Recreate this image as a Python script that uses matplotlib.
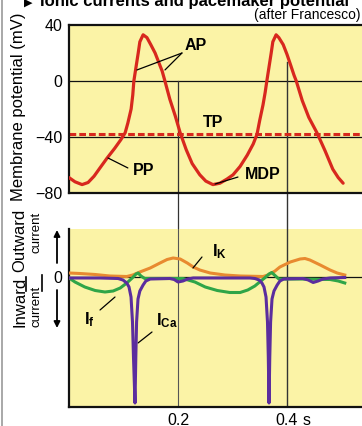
import matplotlib
matplotlib.use('Agg')
import matplotlib.pyplot as plt
from matplotlib.lines import Line2D

plt.rcParams['font.family'] = ['Liberation Sans', 'DejaVu Sans']
plt.rcParams['mathtext.fontset'] = 'custom'
plt.rcParams['mathtext.rm'] = 'Liberation Sans'
plt.rcParams['mathtext.bf'] = 'Liberation Sans:bold'
plt.rcParams['mathtext.it'] = 'Liberation Sans:italic'

# ---------------- data (time in s) ----------------
vm_t = [0.000, 0.011, 0.024, 0.035, 0.046, 0.057, 0.070, 0.084, 0.095, 0.103,
        0.108, 0.114, 0.117, 0.119, 0.123, 0.127, 0.130, 0.136, 0.143, 0.150,
        0.158, 0.165, 0.171, 0.176, 0.185, 0.195, 0.204, 0.215, 0.226, 0.240,
        0.251, 0.264, 0.277, 0.290, 0.301, 0.314, 0.327, 0.338, 0.345, 0.350,
        0.356, 0.360, 0.363, 0.367, 0.371, 0.374, 0.380, 0.385, 0.393, 0.400,
        0.407, 0.413, 0.417, 0.428, 0.440, 0.455, 0.470, 0.484, 0.494, 0.503]
vm_mv = [-69, -72, -74, -72.5, -68, -62, -55, -48, -42, -37,
         -30, -20, -10, 0, 10, 20, 28, 33, 31, 26,
         20, 13, 7, 0, -13, -25, -37, -49, -59, -67,
         -71.5, -74, -73, -70, -67, -61, -53, -45, -38, -28,
         -17, -8, 0, 10, 20, 28, 33, 31, 26, 19,
         11, 4, 0, -14, -26, -37, -50, -63, -69, -73]

ik_t = [0.000, 0.020, 0.048, 0.075, 0.106, 0.117, 0.130, 0.149, 0.167, 0.180,
        0.191, 0.204, 0.217, 0.228, 0.240, 0.259, 0.286, 0.314, 0.356, 0.365,
        0.378, 0.387, 0.406, 0.424, 0.433, 0.442, 0.461, 0.479, 0.492, 0.506]
ik_i = [4, 3.5, 2.5, 1, 0.5, 2, 5, 9, 14, 17.5,
        19, 18, 14, 10, 7, 4, 2, 1, 0.5, 2,
        6, 10, 15, 18, 18.5, 17, 12, 7, 4, 2]

if_t = [0.000, 0.011, 0.029, 0.048, 0.066, 0.081, 0.094, 0.106, 0.116, 0.123,
        0.127, 0.132, 0.139, 0.167, 0.209, 0.231, 0.250, 0.272, 0.295, 0.314,
        0.328, 0.341, 0.352, 0.360, 0.367, 0.372, 0.378, 0.385, 0.424, 0.479,
        0.494, 0.506]
if_i = [-1, -5, -10, -13.5, -15, -14, -11, -6, -1, 3,
        4, 1, -1.5, -1.5, -1.5, -5, -10, -13.5, -15.5, -15.5,
        -13, -9, -4, -0.5, 3, 4.5, 1.5, -2, -2, -2.5,
        -4, -6]

ica_t = [0.000, 0.057, 0.090, 0.099, 0.106, 0.1101, 0.1138, 0.1165, 0.1183, 0.1211,
         0.1226, 0.1240, 0.1266, 0.130, 0.136, 0.141, 0.149, 0.185, 0.193, 0.200,
         0.209, 0.218, 0.228, 0.332, 0.341, 0.349, 0.354, 0.3578, 0.3615, 0.3642,
         0.3657, 0.3670, 0.3684, 0.3699, 0.3725, 0.3761, 0.382, 0.387, 0.394, 0.429,
         0.439, 0.448, 0.457, 0.466, 0.479, 0.506]
ica_i = [-1, -1, -1.5, -3, -6, -10, -20, -45, -80, -126,
         -80, -45, -22, -14, -8, -4, -2, -1.5, -2.5, -5,
         -4, -2, -1, -1, -1.5, -3, -6, -10, -20, -45,
         -80, -126, -80, -45, -22, -14, -8, -4, -2, -1.5,
         -3, -5.5, -4, -2, -1, -0.5]

vm_ticks = [40, 0, -40, -80]
vm_ticklabels = ['40', '0', '\u221240', '\u221280']
time_ticks = [0.2, 0.4]
time_ticklabels = ['0.2', '0.4']
tp_level = -38

# ---------------- layout ----------------
W, H = 362, 426
fig = plt.figure(figsize=(W / 100, H / 100), dpi=100)
fig.patch.set_facecolor('white')

def fx(px):
    return px / W

def fy(py):
    return 1 - py / H

yellow = '#FBF3A6'
red = '#D8281E'
orange = '#E88A30'
green = '#2FA548'
purple = '#5B2D9E'
tmax = 293 * 0.2 / 109

ax1 = fig.add_axes([fx(69), fy(193), (W - 69) / W, 168 / H])
ax2 = fig.add_axes([fx(69), fy(407), (W - 69) / W, 178 / H])

# ---- top panel ----
ax1.set_facecolor(yellow)
ax1.set_xlim(0, tmax)
ax1.set_ylim(-80, 40)
for s in ['left', 'bottom', 'top']:
    ax1.spines[s].set_color('#111111')
    ax1.spines[s].set_linewidth(1.6)
ax1.spines['right'].set_visible(False)
ax1.set_xticks([])
ax1.set_yticks(vm_ticks)
ax1.set_yticklabels(vm_ticklabels)
ax1.tick_params(axis='y', length=0, pad=5, labelsize=11.5)

ax1.axhline(0, color='#111111', lw=0.9, zorder=1)
ax1.axhline(-40, color='#111111', lw=0.9, zorder=1)
ax1.axhline(tp_level, color=red, lw=2.2, ls=(0, (2.2, 1.0)), zorder=2)
ax1.axvline(0.2, ymin=-0.214, ymax=0.667, color='#333333', lw=0.9,
            clip_on=False, zorder=1)
ax1.axvline(0.4, ymin=-0.214, ymax=0.78, color='#333333', lw=1.0,
            clip_on=False, zorder=1)
ax1.plot(vm_t, vm_mv, color=red, lw=2.3, zorder=3, solid_capstyle='round')

lab = dict(fontsize=11.5, fontweight='bold', color='black')
ln = dict(arrowstyle='-', color='black', lw=0.9, shrinkA=0, shrinkB=0)
ax1.text(0.2128, 25.7, 'AP', ha='left', va='center', **lab)
ax1.annotate('', xy=(0.1248, 7.9), xytext=(0.2073, 20), arrowprops=ln)
ax1.annotate('', xy=(0.1761, 7.9), xytext=(0.2073, 20), arrowprops=ln)
ax1.text(0.264, -29.3, 'TP', ha='center', va='center', **lab)
ax1.text(0.117, -63.6, 'PP', ha='left', va='center', **lab)
ax1.annotate('', xy=(0.0716, -55), xytext=(0.108, -62.1), arrowprops=ln)
ax1.text(0.323, -67, 'MDP', ha='left', va='center', **lab)
ax1.annotate('', xy=(0.268, -73.6), xytext=(0.310, -68.6), arrowprops=ln)

# ---- bottom panel ----
ax2.set_facecolor(yellow)
ax2.set_xlim(0, tmax)
ax2.set_ylim(-130, 48)
for s in ['left', 'bottom']:
    ax2.spines[s].set_color('#111111')
    ax2.spines[s].set_linewidth(1.6)
ax2.spines['right'].set_visible(False)
ax2.spines['top'].set_visible(False)
ax2.set_xticks(time_ticks)
ax2.set_xticklabels(time_ticklabels)
ax2.set_yticks([0])
ax2.set_yticklabels(['0'])
ax2.tick_params(axis='both', length=0, labelsize=11.5)
ax2.tick_params(axis='x', pad=4)
ax2.tick_params(axis='y', pad=5)

ax2.axhline(0, color='#111111', lw=0.9, zorder=1)
ax2.axvline(0.2, color='#555555', lw=0.8, zorder=1)
ax2.axvline(0.4, color='#333333', lw=1.0, zorder=1)
ax2.plot(ik_t, ik_i, color=orange, lw=2.2, zorder=3)
ax2.plot(if_t, if_i, color=green, lw=2.2, zorder=4)
ax2.plot(ica_t, ica_i, color=purple, lw=2.2, zorder=5)

ax2.annotate('s', xy=(0.4367, 0), xycoords=('data', 'axes fraction'),
             xytext=(0, -4), textcoords='offset points', ha='center', va='top',
             fontsize=11.5)

ilab = dict(fontsize=12, color='black')
ax2.text(0.262, 25, r'$\mathbf{I_K}$', ha='left', va='center', **ilab)
ax2.annotate('', xy=(0.2275, 9), xytext=(0.244, 20), arrowprops=ln)
ax2.text(0.0275, -43, r'$\mathbf{I_f}$', ha='left', va='center', **ilab)
ax2.annotate('', xy=(0.0844, -20), xytext=(0.0569, -33), arrowprops=ln)
ax2.text(0.1596, -44, r'$\mathbf{I_{Ca}}$', ha='left', va='center', **ilab)
ax2.annotate('', xy=(0.1266, -66), xytext=(0.1523, -55), arrowprops=ln)

# ---- labels ----
fig.text(fx(19), fy(107), 'Membrane potential (mV)', rotation=90,
         ha='center', va='center', fontsize=12)
fig.text(fx(20), fy(240), 'Outward', rotation=90, ha='center', va='center', fontsize=12)
fig.text(fx(37), fy(232), 'current', rotation=90, ha='center', va='center', fontsize=9.5)
fig.text(fx(20), fy(302), 'Inward', rotation=90, ha='center', va='center', fontsize=12)
fig.text(fx(37), fy(306), 'current', rotation=90, ha='center', va='center', fontsize=9.5)
fig.add_artist(Line2D([fx(25.5), fx(25.5)], [fy(277), fy(291)], color='black', lw=1.2))
fig.add_artist(Line2D([fx(42), fx(42)], [fy(275), fy(291)], color='black', lw=1.2))
fig.add_artist(Line2D([fx(2), fx(2)], [0, 1], color='#9a9a9a', lw=1.2))
arr = dict(arrowstyle='-|>', color='black', lw=1.3, mutation_scale=9,
           shrinkA=0, shrinkB=0)
fig.add_artist(matplotlib.patches.FancyArrowPatch((fx(57), fy(263)), (fx(57), fy(230)),
               transform=fig.transFigure, **arr))
fig.add_artist(matplotlib.patches.FancyArrowPatch((fx(57), fy(290)), (fx(57), fy(328)),
               transform=fig.transFigure, **arr))

fig.text(fx(24), fy(6), '\u25b6', ha='left', va='baseline', fontsize=8,
         family='DejaVu Sans')
fig.text(fx(40), fy(6), 'Ionic currents and pacemaker potential', ha='left',
         va='baseline', fontsize=12, fontweight='bold')
fig.text(fx(361), fy(19.5), '(after Francesco)', ha='right', va='baseline', fontsize=10)

fig.savefig('out.png', dpi=100)
